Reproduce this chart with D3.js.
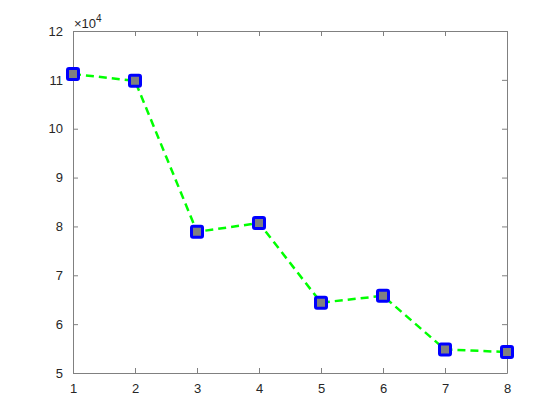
<!DOCTYPE html>
<html>
<head>
<meta charset="utf-8">
<script src="https://cdn.jsdelivr.net/npm/d3@7"></script>
<style>
  body { margin: 0; background: #fff; }
  svg { display: block; font-family: Arial, "Liberation Sans", sans-serif; }
</style>
</head>
<body>
<svg id="chart" width="560" height="420"></svg>
<script>
// data
const xs = [1, 2, 3, 4, 5, 6, 7, 8];
const ys = [111200, 109800, 78900, 80700, 64400, 65800, 54800, 54300];
const xTicks = [1, 2, 3, 4, 5, 6, 7, 8];
const yTicks = [5, 6, 7, 8, 9, 10, 11, 12]; // in units of 10^4

const svg = d3.select("#chart");
const pLeft = 73, pRight = 507, pTop = 31, pBottom = 373;
const axisColor = "#808080";

let x = d3.scaleLinear().domain([1, 8]).range([pLeft, pRight]);
let y = d3.scaleLinear().domain([5, 12]).range([pBottom, pTop]);

// axes: labels on bottom / left, inward ticks on all four sides
function styleAxis(g, showText) {
  g.select(".domain").attr("stroke", axisColor);
  g.selectAll(".tick line").attr("stroke", axisColor);
  g.selectAll(".tick text")
    .attr("fill", "#262626")
    .style("font-size", "13px")
    .style("display", showText ? null : "none");
}

svg.append("g")
  .attr("transform", `translate(0,${pBottom})`)
  .call(d3.axisBottom(x).tickValues(xTicks).tickSizeInner(-5).tickSizeOuter(0).tickPadding(11).tickFormat(d3.format("d")))
  .call(g => styleAxis(g, true));

svg.append("g")
  .attr("transform", `translate(0,${pTop})`)
  .call(d3.axisTop(x).tickValues(xTicks).tickSizeInner(-5).tickSizeOuter(0))
  .call(g => styleAxis(g, false));

svg.append("g")
  .attr("transform", `translate(${pLeft},0)`)
  .call(d3.axisLeft(y).tickValues(yTicks).tickSizeInner(-5).tickSizeOuter(0).tickPadding(10).tickFormat(d3.format("d")))
  .call(g => styleAxis(g, true));

svg.append("g")
  .attr("transform", `translate(${pRight},0)`)
  .call(d3.axisRight(y).tickValues(yTicks).tickSizeInner(-5).tickSizeOuter(0))
  .call(g => styleAxis(g, false));

// exponent label
const expo = svg.append("text")
  .attr("x", pLeft + 1).attr("y", pTop - 3)
  .attr("fill", "#262626")
  .style("font-size", "13px");
expo.append("tspan").text("\u00d710");
expo.append("tspan").attr("dy", -6).style("font-size", "10px").text("4");

// dashed line
let line = d3.line()
  .x(function (d, i) { return x(xs[i]); })
  .y(function (d) { return y(d / 1e4); });

svg.append("path")
  .datum(ys)
  .attr("d", line)
  .attr("fill", "none")
  .attr("stroke", "#00ff00")
  .attr("stroke-width", 2.5)
  .attr("stroke-dasharray", "8,5");

// square markers
const ms = 11;
svg.selectAll(".mark")
  .data(ys)
  .enter()
  .append("rect")
  .attr("class", "mark")
  .attr("x", function (d, i) { return x(xs[i]) - ms / 2; })
  .attr("y", function (d) { return y(d / 1e4) - ms / 2; })
  .attr("width", ms).attr("height", ms)
  .attr("rx", 1.5)
  .attr("fill", "#808080")
  .attr("stroke", "#0000ff")
  .attr("stroke-width", 3);
</script>
</body>
</html>
